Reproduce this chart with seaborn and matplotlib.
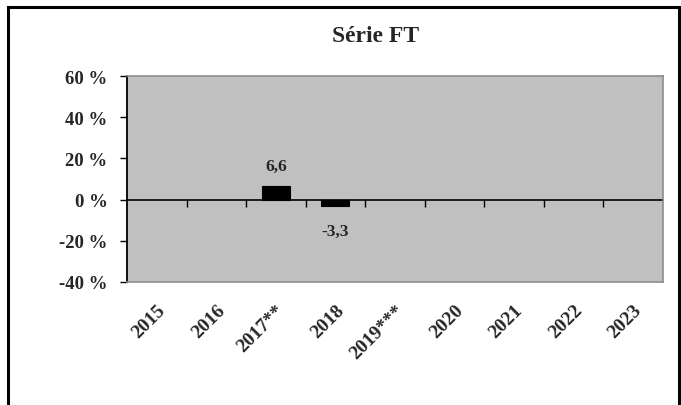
import numpy as np
import pandas as pd
import matplotlib
matplotlib.use("Agg")
import matplotlib.pyplot as plt
from matplotlib.patches import Rectangle
import seaborn as sns

# Annual variation of the FT series (%), only two years published
years = ["2015", "2016", "2017**", "2018", "2019***", "2020", "2021", "2022", "2023"]
variation = [np.nan, np.nan, 6.6, -3.3, np.nan, np.nan, np.nan, np.nan, np.nan]
y_ticks = [-40, -20, 0, 20, 40, 60]
y_tick_labels = ["-40 %", "-20 %", "0 %", "20 %", "40 %", "60 %"]
title = "Série FT"

df = pd.DataFrame({"year": years, "variation": variation})

sns.set_theme(style="white")
plt.rcParams["font.family"] = ["Liberation Serif", "DejaVu Serif"]
plt.rcParams["font.weight"] = "bold"

fig = plt.figure(figsize=(6.81, 4.06), dpi=100)
ax = fig.add_axes([0.1865, 0.303, 0.787, 0.507])

sns.barplot(data=df, x="year", y="variation", order=years, color="black",
            width=0.47, ax=ax, saturation=1, edgecolor="black", linewidth=0.8)

ax.set_facecolor("#c0c0c0")
ax.set_xlim(-0.5, len(years) - 0.5)
ax.set_ylim(-40, 60)
ax.set_yticks(y_ticks)
ax.set_yticklabels(y_tick_labels, fontsize=13.5, fontweight="bold")
ax.set_xticks(range(len(years)))
ax.set_xticklabels(years, rotation=45, ha="right", rotation_mode="anchor",
                   fontsize=14, fontweight="bold")
ax.set_xlabel("")
ax.set_ylabel("")
ax.tick_params(axis="x", length=0, pad=14)
ax.tick_params(axis="y", length=5, width=1, color="black", direction="out",
               left=True, pad=9)

for side in ("top", "right", "bottom"):
    ax.spines[side].set_color("#8c8c8c")
    ax.spines[side].set_linewidth(1.2)
ax.spines["left"].set_color("black")
ax.spines["left"].set_linewidth(1.3)

# Zero line with category separators
zero_frac = (0 - y_ticks[0]) / (y_ticks[-1] - y_ticks[0])
zero_axis = ax.secondary_xaxis(zero_frac)
zero_axis.spines["bottom"].set_color("black")
zero_axis.spines["bottom"].set_linewidth(1.2)
zero_axis.set_xticks(np.arange(0.5, len(years) - 0.5, 1.0))
zero_axis.set_xticklabels([])
zero_axis.tick_params(axis="x", length=5, width=1, color="black", direction="out")

# Value labels with comma decimals
for i, v in enumerate(variation):
    if np.isnan(v):
        continue
    label = f"{v:.1f}".replace(".", ",")
    if v >= 0:
        ax.annotate(label, (i, v), xytext=(0, 8.5), textcoords="offset points",
                    ha="center", va="bottom", fontsize=12.5, fontweight="bold")
    else:
        ax.annotate(label, (i, v), xytext=(0, -12), textcoords="offset points",
                    ha="center", va="top", fontsize=12.5, fontweight="bold")

fig.text(0.552, 0.909, title, ha="center", va="center", fontsize=17,
         fontweight="bold")

# Outer frame of the chart
fig.patches.append(Rectangle((0.012, -0.05), 0.985, 1.03,
                             transform=fig.transFigure, fill=False,
                             edgecolor="black", linewidth=2.2))

fig.savefig("out.png", dpi=100, facecolor="white")
